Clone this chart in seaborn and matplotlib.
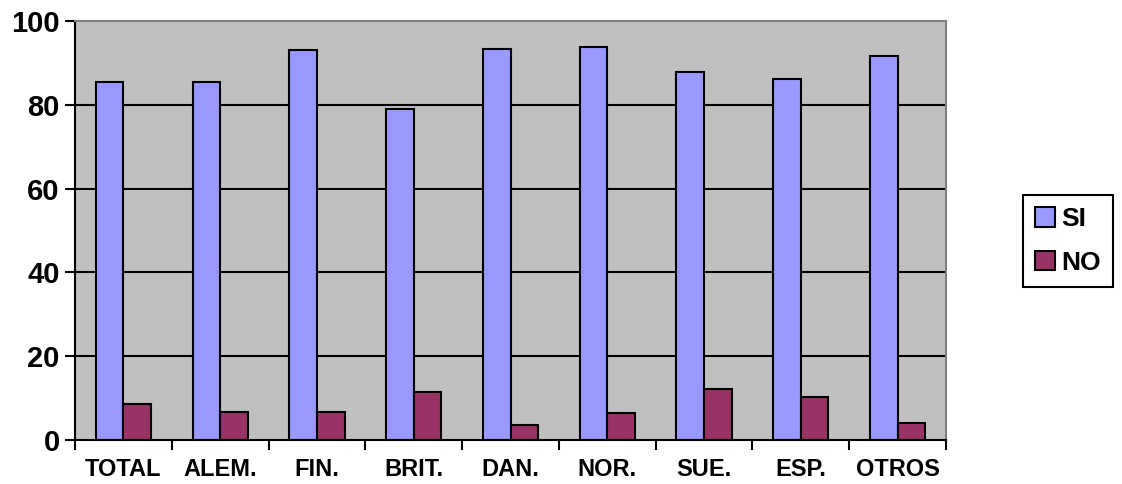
import matplotlib
matplotlib.use("Agg")
import matplotlib.pyplot as plt
import seaborn as sns
import pandas as pd
import numpy as np

categories = ["TOTAL", "ALEM.", "FIN.", "BRIT.", "DAN.", "NOR.", "SUE.", "ESP.", "OTROS"]
si_values = [85.5, 85.4, 93.1, 79.0, 93.2, 93.7, 87.8, 86.1, 91.6]
no_values = [8.6, 6.6, 6.8, 11.5, 3.5, 6.4, 12.1, 10.3, 4.1]
series_names = ["SI", "NO"]
y_ticks = [0, 20, 40, 60, 80, 100]

df = pd.DataFrame({
    "cat": categories * 2,
    "val": si_values + no_values,
    "serie": [series_names[0]] * len(categories) + [series_names[1]] * len(categories),
})

sns.set_theme(style="white")
plt.rcParams["font.family"] = ["Liberation Sans", "DejaVu Sans"]
plt.rcParams["font.weight"] = "bold"

fig = plt.figure(figsize=(11.22, 4.84), dpi=100)
ax = fig.add_axes([75 / 1122, 1 - 440 / 484, (946 - 75) / 1122, (440 - 21) / 484])

ax.set_facecolor("#C0C0C0")
for y in y_ticks[1:-1]:
    ax.axhline(y, color="black", lw=1.5, zorder=0.5)

sns.barplot(data=df, x="cat", y="val", hue="serie", order=categories,
            hue_order=series_names, palette=["#9999FF", "#993366"],
            width=0.57, gap=0, edgecolor="black", linewidth=1.5,
            saturation=1, ax=ax, zorder=2)

ax.set_xlim(-0.5, len(categories) - 0.5)
ax.set_ylim(0, 100)
ax.set_yticks(y_ticks)
ax.set_yticklabels([str(v) for v in y_ticks], fontsize=21, fontweight="bold", color="black")
ax.set_xticks(range(len(categories)))
ax.set_xticklabels(categories, fontsize=17, fontweight="bold", color="black")
ax.set_xticks(np.arange(-0.5, len(categories), 1.0), minor=True)
ax.tick_params(axis="x", which="major", length=0, pad=13)
ax.tick_params(axis="x", which="minor", length=7, width=1.5, color="black", direction="out", bottom=True)
ax.tick_params(axis="y", which="major", length=7, width=1.5, color="black", direction="out", left=True, pad=4)
ax.set_xlabel("")
ax.set_ylabel("")

for s in ["left", "bottom"]:
    ax.spines[s].set_color("black")
    ax.spines[s].set_linewidth(1.5)
for s in ["top", "right"]:
    ax.spines[s].set_color("#808080")
    ax.spines[s].set_linewidth(1.5)
    ax.spines[s].set_visible(True)

ax.get_legend().remove()
handles, labels = ax.get_legend_handles_labels()
leg = fig.legend(handles, labels, loc="center", bbox_to_anchor=(1068 / 1122, 1 - 241 / 484),
                 bbox_transform=fig.transFigure, frameon=True, fancybox=False,
                 edgecolor="black", framealpha=1, prop={"size": 19, "weight": "bold"},
                 handlelength=0.75, handleheight=0.75, handletextpad=0.25,
                 labelspacing=0.75, borderpad=0.45, borderaxespad=0)
leg.get_frame().set_linewidth(1.5)
for t in leg.get_texts():
    t.set_color("black")

fig.savefig("out.png", dpi=100)
